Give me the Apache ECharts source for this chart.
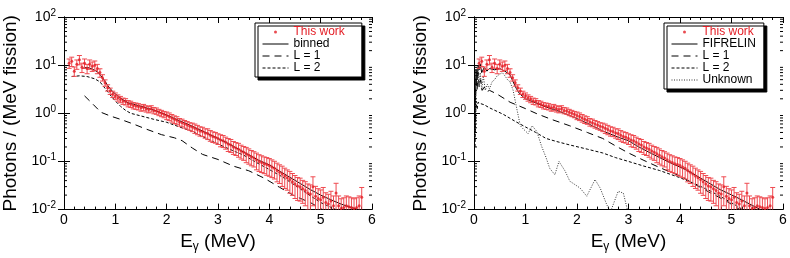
<!DOCTYPE html>
<html>
<head>
<meta charset="utf-8">
<script src="https://cdn.jsdelivr.net/npm/echarts@6/dist/echarts.min.js"></script>
<style>
html, body { margin: 0; padding: 0; background: #fff; }
#chart { width: 790px; height: 258px; }
</style>
</head>
<body>
<div id="chart"></div>
<script>
// measured spectrum (same data in both panels)
var expE = [0.10,0.15,0.20,0.25,0.30,0.35,0.40,0.45,0.50,0.55,0.60,0.65,0.70,0.75,0.80,0.85,0.90,0.95,1.00,1.05,
    1.10,1.15,1.20,1.25,1.30,1.35,1.40,1.45,1.50,1.55,1.60,1.65,1.70,1.75,1.80,1.85,1.90,1.95,2.00,2.05,
    2.10,2.15,2.20,2.25,2.30,2.35,2.40,2.45,2.50,2.55,2.60,2.65,2.70,2.75,2.80,2.85,2.90,2.95,3.00,3.05,
    3.10,3.15,3.20,3.25,3.30,3.35,3.40,3.45,3.50,3.55,3.60,3.65,3.70,3.75,3.80,3.85,3.90,3.95,4.00,4.05,
    4.10,4.15,4.20,4.25,4.30,4.35,4.40,4.45,4.50,4.55,4.60,4.65,4.70,4.75,4.80,4.85,4.90,4.95,5.00,5.05,
    5.10,5.15,5.20,5.25,5.30,5.35,5.40,5.45,5.50,5.55,5.60,5.65,5.70,5.75,5.80];
var expY = [11,12,7.5,10.5,13,9,11,8.5,10.5,9.5,10,8.5,7,5.5,4.3,3.4,2.9,2.5,2.3,2.1,
    1.95,1.8,1.75,1.6,1.55,1.45,1.42,1.38,1.3,1.33,1.25,1.2,1.25,1.15,1.12,1.05,1.0,0.95,0.9,0.86,
    0.8,0.75,0.72,0.66,0.64,0.6,0.57,0.54,0.52,0.49,0.46,0.43,0.42,0.39,0.38,0.35,0.33,0.32,0.30,0.28,
    0.27,0.25,0.23,0.22,0.20,0.19,0.18,0.165,0.155,0.145,0.135,0.125,0.118,0.108,0.1,0.095,0.09,0.086,0.082,0.077,
    0.072,0.065,0.06,0.055,0.05,0.046,0.042,0.038,0.034,0.031,0.03,0.027,0.025,0.022,0.021,0.03,0.019,0.017,0.016,0.018,
    0.014,0.013,0.015,0.012,0.022,0.012,0.0105,0.011,0.012,0.0115,0.011,0.0105,0.011,0.012,0.018];
// relative uncertainties
var expErr = [0.22,0.22,0.22,0.22,0.22,0.22,0.22,0.22,0.22,0.22,0.22,0.22,0.2,0.15,0.15,0.15,0.15,0.15,0.15,0.15,
    0.15,0.15,0.15,0.15,0.15,0.15,0.15,0.15,0.15,0.15,0.15,0.15,0.15,0.15,0.15,0.15,0.15,0.15,0.18,0.18,
    0.18,0.18,0.18,0.18,0.18,0.18,0.18,0.18,0.2,0.22,0.22,0.22,0.22,0.22,0.25,0.25,0.25,0.25,0.25,0.28,
    0.28,0.28,0.3,0.3,0.3,0.3,0.32,0.32,0.32,0.35,0.35,0.35,0.35,0.38,0.38,0.38,0.38,0.4,0.4,0.4,
    0.4,0.42,0.42,0.45,0.45,0.45,0.48,0.48,0.5,0.5,0.5,0.5,0.52,0.55,0.55,0.6,0.6,0.6,0.6,0.6,
    0.6,0.6,0.6,0.6,0.6,0.6,0.6,0.6,0.6,0.6,0.6,0.6,0.6,0.6,0.6];

// left panel models
var binE = [0.35,0.45,0.55,0.65,0.75,0.85,0.95,1.05,1.15,1.25,1.4,1.6,1.8,2.0,2.2,2.4,2.6,2.8,3.0,3.2,3.4,3.6,3.8,4.0,4.2,4.4,4.6,4.8,5.0,5.2,5.4,5.6,5.8];
var binY = [8.5,9,8.3,7.3,5.5,3.8,2.8,2.3,1.9,1.65,1.5,1.3,1.12,0.92,0.74,0.6,0.48,0.38,0.3,0.235,0.18,0.137,0.105,0.085,0.063,0.047,0.035,0.026,0.02,0.016,0.013,0.011,0.0095];
var lftL1E = [0.4,0.55,0.72,0.9,1.1,1.35,1.6,1.9,2.15,2.3,2.5,2.7,3.0,3.3,3.6,3.9,4.2,4.5,4.8,5.0,5.1];
var lftL1Y = [2.3,1.6,1.05,0.88,0.75,0.6,0.47,0.36,0.31,0.27,0.19,0.14,0.11,0.08,0.064,0.045,0.029,0.019,0.014,0.0105,0.009];
var lftL2E = [0.15,0.3,0.45,0.6,0.7,0.8,0.9,1.0,1.1,1.2,1.3,1.5,1.75,2.0,2.25,2.5,2.75,3.0,3.25,3.5,3.75,4.0,4.25,4.5,4.75,5.0,5.25,5.35];
var lftL2Y = [5.8,6,5.8,5.2,4.5,3.3,2.4,1.8,1.4,1.15,1.0,0.88,0.75,0.65,0.52,0.42,0.31,0.23,0.175,0.135,0.095,0.068,0.048,0.032,0.021,0.014,0.0105,0.0095];

// right panel models
var fifE = [0.02,0.04,0.06,0.08,0.10,0.12,0.15,0.20,0.25,0.30,0.40,0.50,0.60,0.70,0.76,0.82,0.88,0.95,1.0,1.2,1.4,1.6,1.86,2.1,2.3,2.5,2.83,3.0,3.2,3.48,3.8,4.13,4.45,4.78,5.1,5.42,5.6];
var fifY = [0.6,8,5,10,8,10.5,7,9,7.5,8.5,8,8.5,7.5,6.3,4.5,3.3,2.6,2.2,2.0,1.65,1.35,1.15,0.9,0.7,0.55,0.43,0.31,0.27,0.2,0.14,0.095,0.066,0.042,0.026,0.018,0.012,0.0095];
var rgtL1E = [0.02,0.04,0.06,0.08,0.10,0.13,0.16,0.20,0.25,0.30,0.45,0.7,1.0,1.22,1.5,1.86,2.2,2.5,2.75,3.0,3.3,3.6,4.0,4.3,4.6,4.9,5.1,5.2];
var rgtL1Y = [0.4,6,3,7,3.5,5,3,3.5,2.8,3.0,2.5,1.7,1.25,0.98,0.75,0.55,0.4,0.3,0.21,0.15,0.105,0.075,0.05,0.033,0.022,0.015,0.011,0.0095];
var rgtL2E = [0.02,0.04,0.06,0.08,0.12,0.2,0.3,0.57,0.8,1.0,1.2,1.4,1.6,1.86,2.2,2.5,2.75,3.0,3.3,3.6,4.0,4.3,4.6,4.9,5.1,5.25];
var rgtL2Y = [0.2,1.8,1.2,1.7,1.6,1.5,1.3,0.95,0.68,0.52,0.4,0.3,0.26,0.22,0.18,0.15,0.12,0.1,0.08,0.065,0.046,0.034,0.024,0.016,0.012,0.0095];
var unkE = [0.02,0.04,0.06,0.08,0.10,0.12,0.15,0.18,0.22,0.26,0.30,0.35,0.40,0.45,0.50,0.55,0.60,0.65,0.70,0.76,0.83,0.90,0.95,1.05,1.13,1.22,1.31,1.40,1.47,1.57,1.65,1.77,1.86,2.06,2.19,2.35,2.45,2.58,2.65,2.8,2.9,3.0];
var unkY = [0.3,8,4,9,3.5,7,3,6,3,4,3.2,4.5,5,6,6.5,7,6,5,4.5,3,1.26,0.55,0.48,0.38,0.55,0.42,0.21,0.12,0.072,0.053,0.1,0.063,0.039,0.028,0.019,0.042,0.028,0.0125,0.009,0.024,0.022,0.008];

// log minor tick positions
var minorYTicks = [0.02,0.03,0.04,0.05,0.06,0.07,0.08,0.09,0.2,0.3,0.4,0.5,0.6,0.7,0.8,0.9,
    2,3,4,5,6,7,8,9,20,30,40,50,60,70,80,90];

var FONT = '"Liberation Sans", Arial, Helvetica, sans-serif';
var RED = '#e41e26';
var BAR = '#ef4a50';

function pairs(xs, ys) {
    return xs.map(function (x, i) { return [x, ys[i]]; });
}

function grids() {
    return [
        { left: 63, top: 17, width: 309, height: 195, containLabel: false },
        { left: 474, top: 17, width: 309, height: 195, containLabel: false }
    ];
}

function xAxes(gi) {
    var base = {
        type: 'value', gridIndex: gi, min: 0, max: 6, interval: 1,
        splitLine: { show: false },
        axisLine: { lineStyle: { color: '#000', width: 1 } },
        axisTick: { inside: true, length: 6, lineStyle: { color: '#000' } },
        minorTick: { show: true, splitNumber: 5, length: 3, lineStyle: { color: '#000' } }
    };
    var bottom = echarts.util.merge({
        position: 'bottom',
        axisLabel: { color: '#000', fontSize: 14, fontFamily: FONT, margin: 4 },
        name: '{n|E}{s|γ}{n| (MeV)}',
        nameLocation: 'middle', nameGap: 20,
        nameTextStyle: {
            rich: {
                n: { fontSize: 19, fontFamily: FONT, color: '#000' },
                s: { fontSize: 12, fontFamily: FONT, color: '#000', verticalAlign: 'bottom', padding: [10, 0, 0, 0] }
            }
        }
    }, base, true);
    var top = echarts.util.merge({ position: 'top', axisLabel: { show: false } }, echarts.util.clone(base), true);
    return [bottom, top];
}

function yAxes(gi) {
    var base = {
        type: 'log', logBase: 10, gridIndex: gi, min: 0.01, max: 100, splitNumber: 4,
        splitLine: { show: false },
        axisLine: { lineStyle: { color: '#000', width: 1 } },
        axisTick: { inside: true, length: 6, lineStyle: { color: '#000' } }
    };
    var left = echarts.util.merge({
        position: 'left',
        axisLabel: {
            margin: 8,
            formatter: function (v) {
                var e = Math.round(Math.log(v) / Math.LN10);
                return '{b|10}{e|' + e + '}';
            },
            rich: {
                b: { fontSize: 14, fontFamily: FONT, color: '#000' },
                e: { fontSize: 10, fontFamily: FONT, color: '#000', verticalAlign: 'top', padding: [0, 0, 8, 0] }
            }
        },
        name: 'Photons / (MeV fission)',
        nameLocation: 'middle', nameGap: 44,
        nameTextStyle: { fontSize: 19, fontFamily: FONT, color: '#000' }
    }, base, true);
    var right = echarts.util.merge({ position: 'right', axisLabel: { show: false } }, echarts.util.clone(base), true);
    return [left, right];
}

function lineSeries(name, gi, xs, ys, dash, color) {
    return {
        name: name, type: 'line', xAxisIndex: gi * 2, yAxisIndex: gi * 2,
        data: pairs(xs, ys), symbol: 'none', showSymbol: false, smooth: false,
        lineStyle: { color: color || '#000', width: 1, type: dash },
        itemStyle: { color: color || '#000' },
        z: 3
    };
}

function errSeries(gi) {
    return {
        type: 'custom', xAxisIndex: gi * 2, yAxisIndex: gi * 2, clip: true, z: 4,
        data: expE.map(function (x, i) { return [x, expY[i], expY[i] * expErr[i]]; }),
        renderItem: function (params, api) {
            var x = api.value(0), y = api.value(1), d = api.value(2);
            var lo = api.coord([x, Math.max(y - d, 0.001)]);
            var hi = api.coord([x, y + d]);
            var w = 2.5;
            var st = { stroke: BAR, lineWidth: 1 };
            return {
                type: 'group',
                children: [
                    { type: 'line', shape: { x1: lo[0], y1: lo[1], x2: hi[0], y2: hi[1] }, style: st },
                    { type: 'line', shape: { x1: hi[0] - w, y1: hi[1], x2: hi[0] + w, y2: hi[1] }, style: st },
                    { type: 'line', shape: { x1: lo[0] - w, y1: lo[1], x2: lo[0] + w, y2: lo[1] }, style: st }
                ]
            };
        }
    };
}

function pointSeries(gi) {
    return {
        name: 'This work', type: 'scatter', xAxisIndex: gi * 2, yAxisIndex: gi * 2,
        data: pairs(expE, expY), symbol: 'circle', symbolSize: 3,
        itemStyle: { color: RED }, z: 5
    };
}

function minorTickSeries(gi) {
    return {
        type: 'custom', xAxisIndex: gi * 2, yAxisIndex: gi * 2, silent: true, z: 6,
        data: minorYTicks.map(function (v) { return [0, v]; }),
        renderItem: function (params, api) {
            var v = api.value(1);
            var a = api.coord([0, v]);
            var b = api.coord([6, v]);
            var st = { stroke: '#000', lineWidth: 1 };
            return {
                type: 'group',
                children: [
                    { type: 'line', shape: { x1: a[0], y1: a[1], x2: a[0] + 3, y2: a[1] }, style: st },
                    { type: 'line', shape: { x1: b[0] - 3, y1: b[1], x2: b[0], y2: b[1] }, style: st }
                ]
            };
        }
    };
}

function legend(left, names, padRight) {
    return {
        left: left, top: 23, orient: 'vertical', align: 'left', selectedMode: false,
        padding: [3, padRight, 3, 7], itemGap: 0, itemWidth: 26, itemHeight: 3,
        backgroundColor: '#fff', borderColor: '#000', borderWidth: 1,
        shadowColor: '#000', shadowBlur: 0, shadowOffsetX: 3, shadowOffsetY: 3,
        lineStyle: { width: 1 },
        formatter: function (n) {
            return n === 'This work' ? '{r|' + n + '}' : '{k|' + n + '}';
        },
        textStyle: {
            fontSize: 12, lineHeight: 11, fontFamily: FONT, color: '#000',
            rich: {
                r: { fontSize: 12, lineHeight: 11, fontFamily: FONT, color: RED },
                k: { fontSize: 12, lineHeight: 11, fontFamily: FONT, color: '#000' }
            }
        },
        data: names.map(function (n) {
            if (n === 'This work') return { name: n, icon: 'circle' };
            // hide the marker drawn in the middle of line icons
            return { name: n, itemStyle: { color: 'rgba(0,0,0,0)', borderWidth: 0 } };
        })
    };
}

var dashLong = [7, 5];
var dashShort = [3, 2];
var dotted = [1, 1.5];

var option = {
    animation: false,
    backgroundColor: '#fff',
    grid: grids(),
    xAxis: xAxes(0).concat(xAxes(1)),
    yAxis: yAxes(0).concat(yAxes(1)),
    legend: [
        legend(255, ['This work', 'binned', 'L = 1', 'L = 2'], 17),
        legend(664, ['This work', 'FIFRELIN', 'L = 1', 'L = 2', 'Unknown'], 8)
    ],
    series: [
        errSeries(0),
        pointSeries(0),
        lineSeries('binned', 0, binE, binY, 'solid'),
        lineSeries('L = 1', 0, lftL1E, lftL1Y, dashLong),
        lineSeries('L = 2', 0, lftL2E, lftL2Y, dashShort),
        minorTickSeries(0),
        errSeries(1),
        pointSeries(1),
        lineSeries('FIFRELIN', 1, fifE, fifY, 'solid'),
        lineSeries('L = 1', 1, rgtL1E, rgtL1Y, dashLong),
        lineSeries('L = 2', 1, rgtL2E, rgtL2Y, dashShort),
        lineSeries('Unknown', 1, unkE, unkY, dotted, '#333'),
        minorTickSeries(1)
    ]
};

var myChart = echarts.init(document.getElementById('chart'));
myChart.setOption(option);
</script>
</body>
</html>
